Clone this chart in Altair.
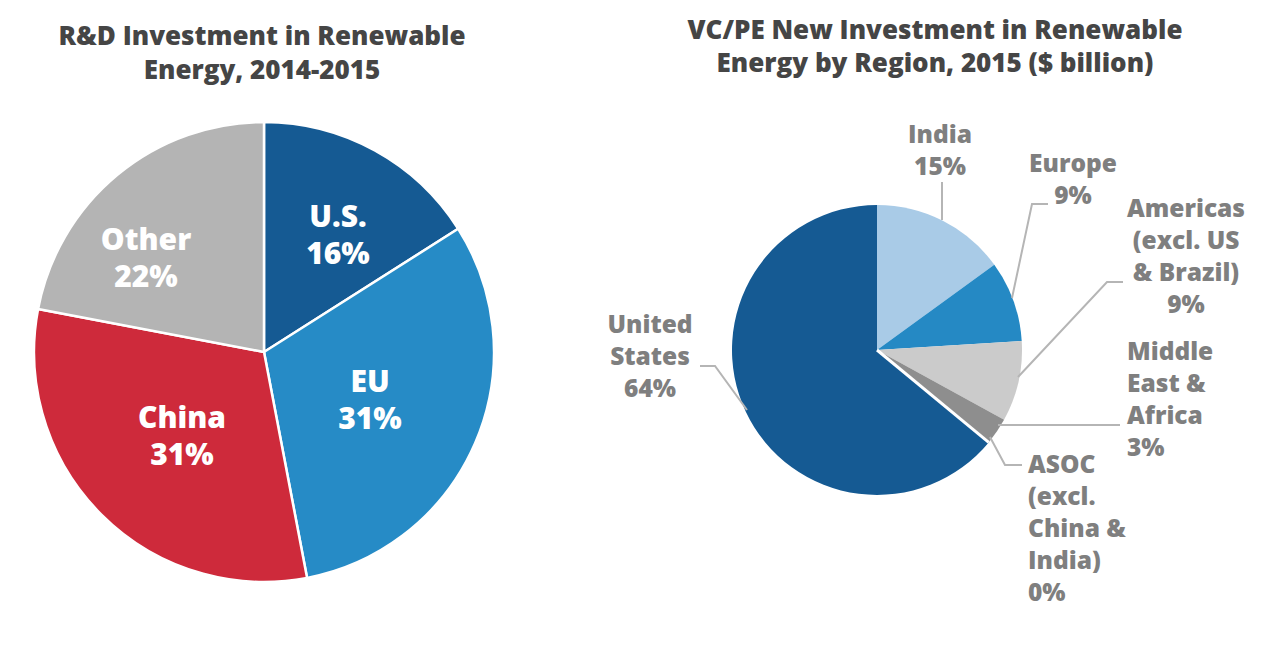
import math
import altair as alt
import pandas as pd

# ---------------- data ----------------
left_title = ["R&D Investment in Renewable", "Energy, 2014-2015"]
left_names = ["U.S.", "EU", "China", "Other"]
left_values = [16, 31, 31, 22]
left_colors = ["#155a93", "#268bc6", "#ce2a3b", "#b4b4b4"]
left_lines = [["U.S."], ["EU"], ["China"], ["Other"]]

right_title = ["VC/PE New Investment in Renewable", "Energy by Region, 2015 ($ billion)"]
right_names = ["India", "Europe", "Americas (excl. US & Brazil)",
               "Middle East & Africa", "ASOC (excl. China & India)", "United States"]
right_values = [15, 9, 9, 3, 0, 64]
right_colors = ["#a9cbe7", "#2589c4", "#cbcbcb", "#8e8e8e", "#ffffff", "#155a93"]
right_lines = [["India"], ["Europe"], ["Americas", "(excl. US", "& Brazil)"],
               ["Middle", "East &", "Africa"], ["ASOC", "(excl.", "China &", "India)"],
               ["United", "States"]]

# ---------------- layout ----------------
W, H = 1257, 653
FONT = "Open Sans"
LC, LR = (256, 344), 230
RC, RR = (869, 342), 145
left_label_pos = [(330, 219), (362, 384), (174, 420), (138, 242)]
left_gap = 37
right_label_pos = [(932, 135, "center"), (1065, 164, "center"), (1178, 209, "center"),
                   (1119, 352, "left"), (1020, 465, "left"), (642, 325, "center")]
right_gap = 32
leaders = [
    [(934, 174), (934, 212)],
    [(1040, 196), (1024, 196), (1004, 290)],
    [(1115, 274), (1099, 274), (1010, 369)],
    [(1112, 417), (990, 417)],
    [(1014, 457), (997, 457), (982, 429)],
    [(692, 358), (707, 358), (739, 402)],
]
title_rows = [
    (254, 37, left_title[0]), (254, 71, left_title[1]),
    (927, 31, right_title[0]), (927, 64, right_title[1]),
]

xs = alt.Scale(domain=[0, W], range=[0, W], nice=False, zero=False)
ys = alt.Scale(domain=[0, H], range=[0, H], nice=False, zero=False)


def arcs(names, values, colors):
    tot = sum(values)
    rows, cum = [], 0.0
    for n, v, c in zip(names, values, colors):
        a0 = cum / tot * 2 * math.pi
        cum += v
        a1 = cum / tot * 2 * math.pi
        rows.append({"name": n, "value": v, "start": a0, "end": a1, "color": c})
    return pd.DataFrame(rows)


ldf = arcs(left_names, left_values, left_colors)
rdf = arcs(right_names, right_values, right_colors)

left_arc = alt.Chart(ldf).mark_arc(outerRadius=LR, stroke="white", strokeWidth=2.5).encode(
    theta=alt.Theta("start:Q", scale=None), theta2="end:Q",
    color=alt.Color("color:N", scale=None),
    x=alt.value(LC[0]), y=alt.value(LC[1]))

right_arc = alt.Chart(rdf).mark_arc(outerRadius=RR, strokeWidth=0).encode(
    theta=alt.Theta("start:Q", scale=None), theta2="end:Q",
    color=alt.Color("color:N", scale=None),
    x=alt.value(RC[0]), y=alt.value(RC[1]))

# white separator for the 0% ASOC slice
asoc = rdf[rdf["name"].str.startswith("ASOC")].iloc[0]
sep_df = pd.DataFrame([{
    "x": RC[0], "y": RC[1],
    "x2": RC[0] + RR * math.sin(asoc["start"]),
    "y2": RC[1] - RR * math.cos(asoc["start"]),
}])
sep = alt.Chart(sep_df).mark_rule(color="white", strokeWidth=3).encode(
    x=alt.X("x:Q", scale=xs, axis=None), y=alt.Y("y:Q", scale=ys, axis=None),
    x2="x2:Q", y2="y2:Q")

# labels
lrows = []
for (x, y), lines, v in zip(left_label_pos, left_lines, left_values):
    for i, t in enumerate(lines + [f"{v}%"]):
        lrows.append({"x": x, "y": y + i * left_gap, "t": t})
rrows_c, rrows_l = [], []
for (x, y, al), lines, v in zip(right_label_pos, right_lines, right_values):
    for i, t in enumerate(lines + [f"{v}%"]):
        (rrows_c if al == "center" else rrows_l).append({"x": x, "y": y + i * right_gap, "t": t})


def text_layer(rows, align, size, color, weight=800):
    return alt.Chart(pd.DataFrame(rows)).mark_text(
        align=align, baseline="alphabetic", font=FONT, fontWeight=weight,
        fontSize=size, color=color).encode(
        x=alt.X("x:Q", scale=xs, axis=None), y=alt.Y("y:Q", scale=ys, axis=None),
        text="t:N")


left_text = text_layer(lrows, "center", 30, "white")
right_text_c = text_layer(rrows_c, "center", 24.5, "#7f7f7f")
right_text_l = text_layer(rrows_l, "left", 24.5, "#7f7f7f")
titles = text_layer([{"x": x, "y": y, "t": t} for x, y, t in title_rows], "center", 26, "#454545")

lead_rows = []
for k, pts in enumerate(leaders):
    for j, (x, y) in enumerate(pts):
        lead_rows.append({"id": k, "seq": j, "x": x, "y": y})
lead = alt.Chart(pd.DataFrame(lead_rows)).mark_line(color="#b5b5b5", strokeWidth=2).encode(
    x=alt.X("x:Q", scale=xs, axis=None), y=alt.Y("y:Q", scale=ys, axis=None),
    detail="id:N", order="seq:Q")

chart = alt.layer(left_arc, right_arc, sep, lead, left_text, right_text_c, right_text_l, titles).properties(
    width=W, height=H, padding=0
).configure_view(stroke=None)

chart.save("out.html", embed_options={"renderer": "svg", "actions": False})
